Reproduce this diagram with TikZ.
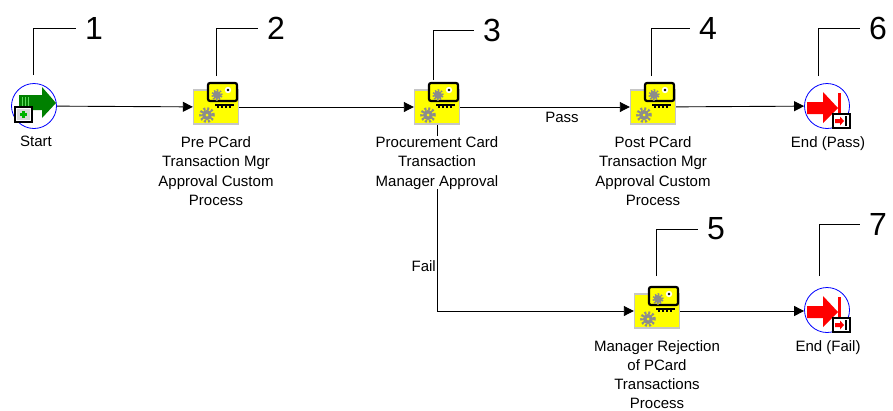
\documentclass[tikz,border=0pt]{standalone}
\usepackage{fontspec}
\setmainfont{Liberation Sans}
\usetikzlibrary{arrows.meta}
\definecolor{iconyellow}{RGB}{255,255,0}
\definecolor{icongreen}{RGB}{0,128,0}
\definecolor{iconlgreen}{RGB}{90,220,90}
\definecolor{icongray}{RGB}{140,140,140}
\tikzset{
  procbox/.style={rectangle, fill=iconyellow, draw=gray!45, line width=1.4pt, minimum width=45pt, minimum height=34pt, inner sep=0pt},
  evcircle/.style={circle, draw=blue, line width=0.8pt, fill=white, minimum size=45pt, inner sep=0pt},
  flow/.style={line width=0.9pt, -{Triangle[length=10pt,width=10pt]}},
  leader/.style={line width=1pt},
  callnum/.style={font=\fontsize{32}{32}\selectfont, inner ysep=0pt, inner xsep=9pt},
  lbl/.style={font=\fontsize{15}{19.5}\selectfont, align=center, inner sep=0pt, fill=white, anchor=north},
  lowlbl/.style={lbl, font=\fontsize{15}{19}\selectfont},
  edgelbl/.style={font=\fontsize{15}{19.5}\selectfont, inner sep=0pt},
}
\newcommand\procIcon[3]{%
  \node[procbox] (#1) at (#2,#3) {};
  \begin{scope}[shift={(#2,#3)}]
    % lower gear
    \fill[icongray] (-9,8) circle (5pt);
    \draw[icongray, line width=3pt, dash pattern=on 2pt off 1.8pt] (-9,8) circle (6.3pt);
    \fill[iconyellow] (-9,8) circle (1.5pt);
    % card
    \draw[black, line width=2.2pt, fill=iconyellow, rounded corners=2pt] (-8,-24) rectangle (21,-6);
    \fill[icongray] (1,-12) circle (4pt);
    \draw[icongray, line width=2pt, dash pattern=on 1.5pt off 1.5pt] (1,-12) circle (4.8pt);
    \fill[white] (12,-17) circle (3.2pt);
    \fill[black] (12,-17) circle (1.3pt);
    % key strip
    \draw[black, line width=2.8pt] (-1,-2) -- (18,-2);
    \foreach \k in {2,6,10,14} \draw[black, line width=1.3pt] (\k,-2) -- (\k,1);
  \end{scope}
}
\begin{document}
\begin{tikzpicture}[x=1pt,y=-1pt]
\useasboundingbox (0,0) rectangle (893,410);

% ---- start event
\node[evcircle] (start) at (34,106) {};
\begin{scope}[shift={(34,106)}]
  \fill[icongreen] (-15,-11) -- (8,-11) -- (8,-19) -- (22,-3) -- (8,12) -- (8,4) -- (-15,4) -- cycle;
  \draw[iconlgreen, line width=0.9pt] (-12,-9) -- (-12,2) (-9,-9) -- (-9,2) (-6,-9) -- (-6,2);
  \draw[black, line width=2pt, fill=white] (-19,1) rectangle (-2,16);
  \fill[gray!30] (-17,3) rectangle (-4,14);
  \draw[green!70!black, line width=2.5pt] (-14,8.5) -- (-7,8.5) (-10.5,5) -- (-10.5,12);
\end{scope}

% ---- process nodes
\procIcon{n2}{216}{107}
\procIcon{n3}{437}{107}
\procIcon{n4}{653}{107}
\procIcon{n5}{657}{311}

% ---- end events
\node[evcircle] (e6) at (827,106) {};
\node[evcircle] (e7) at (827,310) {};
\foreach \c in {e6,e7}{
  \begin{scope}[shift={(\c)}]
    \fill[red] (-20,-4) -- (-4,-4) -- (-4,-14) -- (11,2) -- (-4,17) -- (-4,8) -- (-20,8) -- cycle;
    \fill[red] (11,-13) rectangle (14,16);
    \draw[black, line width=1.5pt, fill=white] (6,8) rectangle (23,22);
    \fill[red] (8,13) -- (13,13) -- (13,10.5) -- (17,15) -- (13,19.5) -- (13,17) -- (8,17) -- cycle;
    \fill[black] (18,10) rectangle (20,20);
  \end{scope}
}

% ---- connectors
\draw[flow] (start) -- (n2);
\draw[flow] (n2) -- (n3);
\draw[flow] (n3) -- node[edgelbl, pos=0.6, below=5pt] {Pass} (n4);
\draw[flow] (n4) -- (e6);
\draw[flow] (n3.south) |- (n5.west);
\draw[flow] (n5) -- (e7.west |- n5.east);
\node[edgelbl, anchor=east] (faillbl) at (436,266) {Fail};

% ---- labels
\node[lbl] (l1) at (36,136) {Start};
\node[lbl] (l2) at (216,136) {Pre PCard\\Transaction Mgr\\Approval Custom\\Process};
\node[lbl] (l3) at (437,136) {Procurement Card\\Transaction\\Manager Approval};
\node[lbl] (l4) at (653,136) {Post PCard\\Transaction Mgr\\Approval Custom\\Process};
\node[lbl] (l6) at (828,136) {End (Pass)};
\node[lowlbl] (l5) at (657,340) {Manager Rejection\\of PCard\\Transactions\\Process};
\node[lbl] (l7) at (828,340) {End (Fail)};

% ---- callouts
\node[callnum] (num1) at (94,28) {1};
\node[callnum] (num2) at (276,28) {2};
\node[callnum] (num3) at (492,30) {3};
\node[callnum] (num4) at (708,28) {4};
\node[callnum] (num5) at (716,229) {5};
\node[callnum] (num6) at (878,28) {6};
\node[callnum] (num7) at (878,224) {7};
\coordinate (k1) at (33,75);
\coordinate (k2) at (216,76);
\coordinate (k3) at (433,80);
\coordinate (k4) at (651,76);
\coordinate (k5) at (656,276);
\coordinate (k6) at (818,76);
\coordinate (k7) at (819,276);
\foreach \i in {1,...,7} \draw[leader] (k\i) |- (num\i.west);
\end{tikzpicture}
\end{document}
